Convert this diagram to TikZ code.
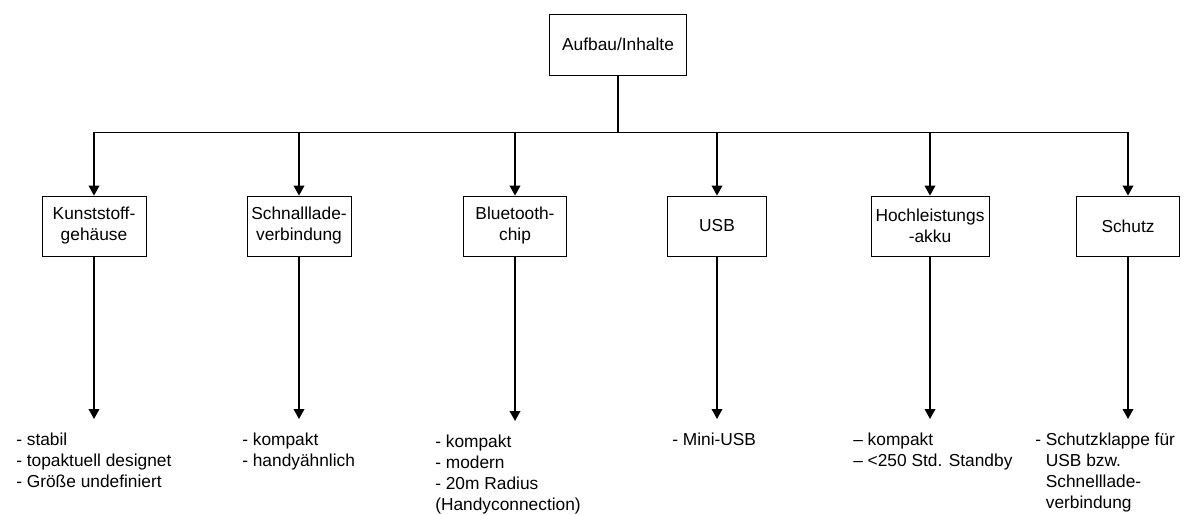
\documentclass[tikz,border=0pt]{standalone}
\usepackage{fontspec}
\setmainfont{Liberation Sans}
\usetikzlibrary{arrows.meta}
\tikzset{
  box/.style={draw, line width=0.6pt, minimum height=45pt, align=center, inner sep=2pt},
  liste/.style={anchor=north west, inner sep=0pt, align=left},
  pfeil/.style={-{Triangle[width=8pt,length=7.5pt]}, line width=1.1pt},
}
\begin{document}
\begin{tikzpicture}[x=0.75pt,y=-0.75pt,font=\fontsize{13}{15.75}\selectfont]
\useasboundingbox (0,0) rectangle (1185,514);
% oben
\node[box, minimum width=102.75pt, minimum height=45.75pt] (top) at (618,44.5) {Aufbau/Inhalte};
% Komponenten
\node[box, minimum width=78pt] (kg) at (94,226) {Kunststoff-\\gehäuse};
\node[box, minimum width=78pt] (sv) at (299,226) {Schnalllade-\\verbindung};
\node[box, minimum width=77.25pt] (bt) at (515,226) {Bluetooth-\\chip};
\node[box, minimum width=74.25pt] (usb) at (717,226) {USB};
\node[box, minimum width=88.5pt] (akku) at (930,226) {Hochleistungs\\-akku};
\node[box, minimum width=77.25pt] (sch) at (1128,226) {Schutz};
% Eigenschaften
\node[liste] (kgl) at (16,433) {- stabil\\- topaktuell designet\\- Größe undefiniert};
\node[liste] (svl) at (242,433) {- kompakt\\- handyähnlich};
\node[liste] (btl) at (435,435) {- kompakt\\- modern\\- 20m Radius\\(Handyconnection)};
\node[liste] (usbl) at (672,433) {- Mini-USB};
\node[liste] (akkul) at (853,433) {-- kompakt\\-- <250 Std. Standby};
\node[liste] (schl) at (1035,433) {- Schutzklappe für\\\phantom{- }USB bzw.\\\phantom{- }Schnelllade-\\\phantom{- }verbindung};
% Verbindungen
\foreach \k in {kg,sv,bt,usb,akku,sch}
  \draw[pfeil] (top.south) -- ++(0,57) -| (\k.north);
\foreach \k in {kg,sv,bt,usb,akku,sch}
  \draw[pfeil, shorten >=10.5pt] (\k.south) -- (\k.south |- \k l.north);
\end{tikzpicture}
\end{document}
